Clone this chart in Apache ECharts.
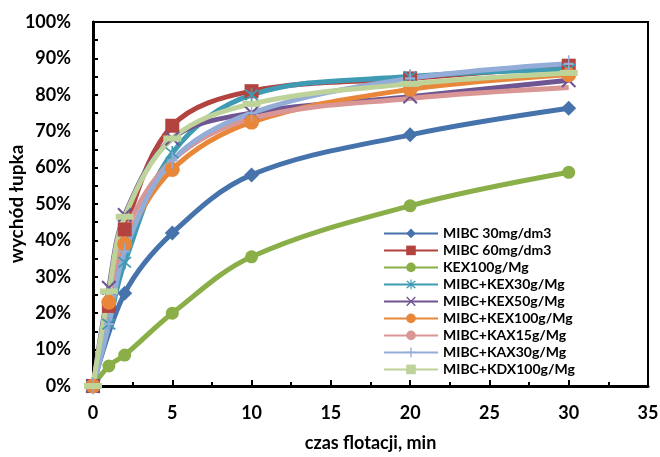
<!DOCTYPE html>
<html>
<head>
<meta charset="utf-8">
<script src="https://cdn.jsdelivr.net/npm/echarts@6/dist/echarts.min.js"></script>
<style>
  html, body { margin: 0; padding: 0; background: #fff; }
  #main { width: 660px; height: 457px; }
</style>
</head>
<body>
<div id="main"></div>
<script>
// czas flotacji [min], wychód łupka [%]
var mibc30   = [[0, 0], [2, 25.5], [5, 42], [10, 58], [20, 69], [30, 76.3]];
var mibc60   = [[0, 0], [1, 22], [2, 43], [5, 71.5], [10, 81], [20, 84.5], [30, 88]];
var kex100   = [[0, 0], [1, 5.5], [2, 8.5], [5, 20], [10, 35.5], [20, 49.5], [30, 58.7]];
var mKex30   = [[0, 0], [1, 17], [2, 34], [5, 64], [10, 80], [20, 85], [30, 87]];
var mKex50   = [[0, 0], [1, 27], [2, 47], [5, 68], [10, 75], [20, 79.5], [30, 84]];
var mKex100  = [[0, 0], [1, 23], [2, 39], [5, 59.5], [10, 72.5], [20, 81.5], [30, 85.5]];
var mKax15   = [[0, 0], [1, 24], [2, 42], [5, 62], [10, 73.5], [20, 79], [30, 82]];
var mKax30   = [[0, 0], [1, 17], [2, 37], [5, 62], [10, 75], [20, 84.5], [30, 88.5]];
var mKdx100  = [[0, 0], [1, 26], [2, 46.5], [5, 68], [10, 77.5], [20, 83], [30, 86]];

var xTicks = [0, 5, 10, 15, 20, 25, 30, 35];

var names = ['MIBC 30mg/dm3', 'MIBC 60mg/dm3', 'KEX100g/Mg', 'MIBC+KEX30g/Mg', 'MIBC+KEX50g/Mg',
             'MIBC+KEX100g/Mg', 'MIBC+KAX15g/Mg', 'MIBC+KAX30g/Mg', 'MIBC+KDX100g/Mg'];
var datas = [mibc30, mibc60, kex100, mKex30, mKex50, mKex100, mKax15, mKax30, mKdx100];
var colors = ['#4673AB', '#B3433F', '#8AAE48', '#3F9AB3', '#6F5592', '#E8873A', '#D99694', '#93ACD8', '#BDD39A'];

// znaczniki
var xMark = 'path://M0,1 L1,0 L10,9 L9,10 Z M9,0 L10,1 L1,10 L0,9 Z';
var starMark = 'path://M0,1 L1,0 L10,9 L9,10 Z M9,0 L10,1 L1,10 L0,9 Z M4.4,-1 L5.6,-1 L5.6,11 L4.4,11 Z';
var plusMark = 'path://M4.3,0 L5.7,0 L5.7,10 L4.3,10 Z M0,4.3 L10,4.3 L10,5.7 L0,5.7 Z';
var symbols = ['diamond', 'rect', 'circle', starMark, xMark, 'circle', 'none', plusMark, 'rect'];
var sizes = [15, 14, 13, 14, 15, 15, 0, [10, 17], [18, 6]];

var series = names.map(function (n, i) {
    return {
        name: n,
        type: 'line',
        data: datas[i],
        smooth: 0.35,
        symbol: symbols[i],
        symbolSize: sizes[i],
        showSymbol: symbols[i] !== 'none',
        lineStyle: { width: 5, color: colors[i] },
        itemStyle: { color: colors[i] },
        emphasis: { disabled: true },
        animation: false
    };
});

var chart = echarts.init(document.getElementById('main'));
chart.setOption({
    backgroundColor: '#fff',
    textStyle: { fontFamily: 'Lato, "Open Sans", sans-serif' },
    grid: {
        left: 93, right: 12, top: 22, bottom: 71,
        outerBoundsMode: 'none',
        show: true, borderColor: '#000', borderWidth: 2
    },
    legend: {
        orient: 'vertical',
        left: 378, top: 220,
        itemWidth: 54, itemHeight: 12, itemGap: 0.2,
        textStyle: { fontSize: 14, lineHeight: 16.8, fontWeight: 'bold', color: '#000' },
        data: names
    },
    xAxis: {
        type: 'value',
        min: 0, max: 35, interval: 5,
        name: 'czas flotacji, min',
        nameLocation: 'middle',
        nameGap: 48,
        nameMoveOverlap: false,
        nameTextStyle: { fontSize: 18, fontWeight: 'bold', color: '#000' },
        axisLine: { show: true, lineStyle: { color: '#000', width: 3 } },
        axisTick: { show: true, inside: true, length: 6, lineStyle: { color: '#000', width: 2 } },
        minorTick: { show: true, splitNumber: 2, length: 4, lineStyle: { color: '#000', width: 2 } },
        axisLabel: { fontSize: 18, fontWeight: 'bold', color: '#000', margin: 18,
            formatter: function (v) { return xTicks.indexOf(v) >= 0 ? String(v) : ''; } },
        splitLine: { show: false }
    },
    yAxis: {
        type: 'value',
        min: 0, max: 100, interval: 10,
        name: 'wychód łupka',
        nameLocation: 'middle',
        nameGap: 67,
        nameMoveOverlap: false,
        nameTextStyle: { fontSize: 19, fontWeight: 'bold', color: '#000' },
        axisLine: { show: true, lineStyle: { color: '#000', width: 3 } },
        axisTick: { show: true, inside: true, length: 5, lineStyle: { color: '#000', width: 2 } },
        minorTick: { show: true, splitNumber: 2, length: 5, lineStyle: { color: '#000', width: 2 } },
        axisLabel: { fontSize: 18, fontWeight: 'bold', color: '#000', margin: 22,
            formatter: '{value}%' },
        splitLine: { show: false }
    },
    series: series
});
</script>
</body>
</html>
